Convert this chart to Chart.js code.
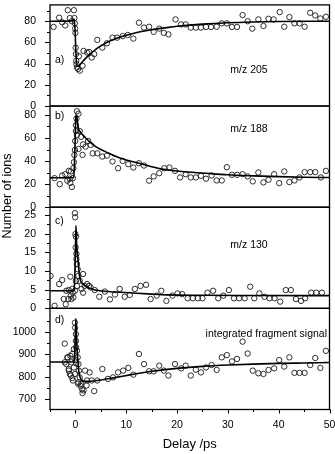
<!DOCTYPE html>
<html>
<head>
<meta charset="utf-8">
<script src="https://cdn.jsdelivr.net/npm/chart.js@4.4.1/dist/chart.umd.min.js"></script>
<style>
  html, body { margin: 0; padding: 0; background: #fff; }
  #wrap { position: relative; width: 335px; height: 454px; }
</style>
</head>
<body>
<div id="wrap"><canvas id="chart" width="335" height="454"></canvas></div>
<script>
// shared delay axis
const delayTicks = [0, 10, 20, 30, 40, 50];
const delayMinor = [-5, 5, 15, 25, 35, 45];

// a) m/z 205
const aTicks = [0, 20, 40, 60, 80];
const aMinor = [10, 30, 50, 70, 90];
const aDelay = [-4.3, -3.2, -2.6, -2.0, -1.5, -1.1, -0.7, -0.3, -0.2, -0.1, -0.05, 0.0, 0.05, 0.1, 0.15, 0.2, 0.3, 0.5,
  0.85, 1.4, 0.7, 1.6, 2.3, 2.7, 3.2, 3.7, 4.3, 5.3, 6.2, 7.3, 8.2, 9.3, 10.3, 11.4, 12.5, 13.5, 14.5, 15.4, 16.5,
  17.4, 18.3, 19.7, 20.8, 21.7, 22.7, 23.7, 24.7, 25.7, 26.7, 27.8, 28.8, 29.8, 30.8, 31.8, 32.9, 33.9, 34.8, 36.0,
  37.0, 38.0, 39.0, 40.2, 41.1, 42.1, 43.1, 44.1, 45.1, 46.2, 47.2, 48.2, 49.3];
const aIons = [74.6, 83.3, 79, 76, 90.4, 83, 80, 90.4, 83, 78, 73, 69, 55, 49, 42.7, 39.6, 36.5, 35,
  33.4, 38, 47, 52, 50.5, 51, 45.8, 49, 62.4, 55.2, 59.2, 64.5, 64.5, 66, 67, 63.6, 78.6, 74, 74.8, 70, 73,
  69, 67.6, 81.7, 77, 77, 74, 74, 74, 74.6, 74.6, 74.8, 78, 78, 74.6, 74.6, 85.8, 80, 73, 81.7,
  75.5, 82.3, 81.7, 88.6, 74.8, 83.9, 78, 78, 74.8, 88, 85.4, 82.6, 84.2];
const aFitDelay = [-5, -0.6, -0.25, -0.05, 0.1, 0.3, 0.6, 1, 2, 3, 4, 5, 7, 9, 11, 13, 15, 18, 20, 25, 30, 35, 40, 50];
const aFitIons = [80, 80.3, 82, 70, 50, 38, 37.5, 39.5, 45, 49.5, 53.5, 56.8, 61.8, 65.3, 68, 70.3, 72, 74, 75.2, 77.3, 78.6, 79.3, 79.7, 80];

// b) m/z 188
const bTicks = [0, 20, 40, 60, 80];
const bMinor = [10, 30, 50, 70];
const bDelay = [-4.1, -3.1, -2.6, -2.0, -1.6, -1.3, -1.1, -1.0, -0.9, -0.7, -0.5, -0.4, -0.3, -0.2, -0.1, -0.05, 0.1,
  0.1, 0.2, 0.3, 0.6, 0.3, 0.6, 0.85, 1.1, 1.4, 1.5, 2.0, 2.5, 3.0, 3.4, 4.3, 5.3, 6.2, 7.3, 8.4, 9.3, 10.4, 11.4,
  12.5, 13.5, 14.5, 15.4, 16.5, 17.5, 18.5, 19.6, 20.6, 21.7, 22.7, 23.7, 24.7, 25.7, 26.8, 27.8, 28.8, 29.8, 30.8,
  31.8, 32.9, 33.9, 34.9, 36.0, 37.0, 38.0, 39.1, 40.1, 41.1, 42.1, 43.1, 44.1, 45.1, 46.2, 47.2, 48.3, 49.3];
const bIons = [25.2, 20, 27.5, 28.6, 23, 31.5, 24.7, 21, 31, 17.5, 25.2, 33.8, 39, 45.3, 49.6, 57.4, 66,
  71, 76.8, 83.2, 81, 62.5, 50.5, 66, 61, 45.3, 54.5, 52.5, 57.4, 54, 46.7, 46.7, 43.9, 44.7, 39.6, 33.8, 40.1, 37.3, 34.4,
  38.1, 36.1, 23, 26.7, 29.5, 33.8, 34.4, 31.5, 25.8, 28.6, 25.8, 25.8, 27.2, 24.7, 27.5, 23.2, 23.2, 34.7, 28.1,
  28.1, 28.6, 26.7, 22.4, 30.1, 21.5, 23.8, 28.6, 20.9, 31, 21.8, 23.2, 25.8, 30.4, 30.4, 30.4, 25.8, 31.5];
const bFitDelay = [-5, -0.35, -0.2, -0.05, 0.1, 0.25, 0.5, 1, 1.5, 2, 3, 4, 5, 6.5, 8, 10, 12, 14.5, 17, 19, 22, 25, 30, 35, 40, 45, 50];
const bFitIons = [25.5, 25.5, 35, 60, 79, 80, 70, 65, 62.5, 60, 56, 52.5, 50, 47, 44, 41, 38.7, 35.8, 33, 31.8, 30.5, 29.6, 28.1, 27.2, 26.5, 26, 25.7];

// c) m/z 130
const cTicks = [0, 5, 10, 15, 20, 25];
const cMinor = [2.5, 7.5, 12.5, 17.5, 22.5];
const cDelay = [-4.9, -4.1, -3.2, -2.6, -2.3, -1.9, -1.8, -1.4, -1.3, -1.0, -0.9, -0.8, -0.6, -0.5, -0.4, -0.1, -0.05,
  0.0, 0.1, 0.05, 0.2, 0.2, 0.3, 0.45, 0.6, 0.1, 0.3, -0.1, 0.85, 1.2, 1.5, 1.8, 2.3, 2.7, 3.0, 1.5, 3.8, 4.7, 5.8,
  6.8, 7.8, 8.7, 9.7, 10.7, 11.7, 12.8, 13.9, 14.8, 16.0, 16.9, 17.9, 19.1, 20.1, 21.0, 22.1, 23.1, 24.1, 25.0,
  26.0, 27.1, 28.1, 29.1, 30.2, 31.2, 32.2, 33.3, 34.4, 35.2, 36.2, 37.2, 38.2, 39.2, 40.3, 41.4, 42.4, 43.4,
  44.4, 45.2, 46.4, 47.4, 48.5];
const cIons = [8.7, 0.7, 6.5, 7.6, 2.5, 1.1, 4.7, 2.5, 4.9, 8.5, 3.4, 2.5, 5.2, 4.2, 2.9, 25.5, 24.4,
  19.9, 19.2, 16.3, 14.6, 13.2, 11.9, 10.5, 8.7, 7.4, 6.0, 4.7, 7.4, 5.2, 9.2, 6.0, 6.5, 6.0, 5.6, 4.2, 4.9, 3.1, 4.5,
  2.4, 3.7, 5.2, 3.1, 3.6, 5.2, 6.0, 6.3, 2.5, 3.4, 4.7, 2.0, 3.4, 4.0, 3.8, 2.7, 2.7, 2.7, 2.7,
  4.2, 4.7, 2.7, 3.4, 4.9, 2.7, 2.7, 2.7, 5.8, 2.7, 4.0, 3.1, 2.7, 2.7, 1.8, 4.9, 4.9, 2.5,
  2.0, 2.7, 4.2, 4.2, 4.2];
const cFitDelay = [-5, -0.4, -0.2, 0, 0.1, 0.25, 0.5, 0.85, 1.5, 2.8, 4.8, 8, 11.4, 15, 18, 25, 35, 50];
const cFitIons = [4.7, 4.7, 6, 15, 22.2, 17, 12.8, 8.3, 6.5, 5.4, 4.7, 4.4, 4.1, 3.8, 3.6, 3.5, 3.45, 3.4];

// d) integrated fragment signal
const dTicks = [700, 800, 900, 1000];
const dMinor = [750, 850, 950, 1050];
const dDelay = [-2.1, -1.8, -1.5, -1.3, -1.0, -1.1, -0.8, -0.6, -0.5, -0.3, -0.3, -0.1, -0.1, -0.05, 0.1, 0.1, 0.15,
  0.3, 0.45, 0.6, 0.7, 0.6, 0.85, 1.1, 1.4, 1.6, 1.9, 2.2, 2.3, 2.8, 3.2, 3.7, 4.3, 5.3, 6.4, 7.4, 8.4, 9.4, 10.4,
  11.4, 12.5, 13.5, 14.5, 15.4, 16.5, 17.4, 18.3, 19.6, 20.8, 21.7, 22.7, 23.7, 24.7, 25.7, 26.8, 27.8, 28.8, 29.8,
  30.8, 31.8, 32.9, 33.9, 34.9, 36.0, 37.0, 38.0, 39.1, 40.1, 41.1, 42.1, 43.1, 44.1, 45.1, 46.2, 47.2, 48.2, 49.3,
  -2.1, -1.6, -1.3, -0.9, -0.6, 0.0, 0.2, 0.5, 1.0, 1.3];
const dIons = [948, 857, 887, 828, 894, 813, 865, 902, 784, 842, 924, 813, 1041, 1019, 990, 960, 931,
  916, 887, 857, 828, 776, 798, 769, 728, 740, 828, 762, 784, 820, 784, 737, 784, 835, 791, 798, 820, 828, 840,
  810, 902, 857, 825, 825, 850, 828, 806, 857, 838, 850, 806, 832, 820, 842, 853, 831, 887, 897,
  869, 880, 957, 904, 828, 816, 813, 831, 838, 875, 846, 887, 818, 818, 818, 853, 884, 840, 916,
  865, 887, 835, 806, 795, 875, 860, 770, 760, 745];
const dFitDelay = [-5, -0.3, -0.15, 0, 0.1, 0.25, 0.45, 0.7, 1.1, 1.8, 3, 5, 8, 11, 15, 20, 25, 30, 35, 40, 45, 50];
const dFitIons = [866, 866, 900, 1000, 1060, 960, 880, 820, 790, 780, 781, 786, 798, 810, 825, 838, 847, 853, 857, 860, 862, 864];

const FONT = "'Liberation Sans', Arial, Helvetica, sans-serif";
Chart.defaults.font.family = FONT;
Chart.defaults.color = '#000';

const pairs = (xs, ys) => xs.map((x, i) => ({ x: x, y: ys[i] }));

const panels = [
  { id: 'ya', min: 0, max: 95.4, major: aTicks, minor: aMinor, tag: 'a)', tagDy: 55.3,
    note: 'm/z 205', noteX: 249, noteDy: 65, noteAlign: 'center' },
  { id: 'yb', min: 0, max: 87.7, major: bTicks, minor: bMinor, tag: 'b)', tagDy: 10.5,
    note: 'm/z 188', noteX: 249, noteDy: 23, noteAlign: 'center' },
  { id: 'yc', min: 0, max: 27.1, major: cTicks, minor: cMinor, tag: 'c)', tagDy: 14.3,
    note: 'm/z 130', noteX: 249, noteDy: 38, noteAlign: 'center' },
  { id: 'yd', min: 655, max: 1105, major: dTicks, minor: dMinor, tag: 'd)', tagDy: 11.7,
    note: 'integrated fragment signal', noteX: 327, noteDy: 25.7, noteAlign: 'right' }
];

function noPadding(s) {
  s.paddingTop = 0; s.paddingBottom = 0; s.paddingLeft = 0; s.paddingRight = 0;
}

function yScale(p) {
  return {
    type: 'linear',
    position: 'left',
    stack: 'ions',
    stackWeight: 1,
    min: p.min,
    max: p.max,
    grid: { display: false, drawTicks: false },
    border: { display: false },
    ticks: { padding: 14, color: '#000', font: { size: 10.5 }, autoSkip: false, callback: v => String(v) },
    afterBuildTicks: s => { s.ticks = p.major.map(v => ({ value: v })); },
    afterFit: s => { s.width = 50; noPadding(s); }
  };
}

function dots(xs, ys, axis) {
  return {
    data: pairs(xs, ys), yAxisID: axis, showLine: false,
    pointRadius: 2.7, pointBorderWidth: 0.9,
    pointBorderColor: '#1a1a1a', pointBackgroundColor: 'rgba(0,0,0,0)', clip: 0
  };
}

function fit(xs, ys, axis) {
  return {
    data: pairs(xs, ys), yAxisID: axis, showLine: true,
    pointRadius: 0, borderColor: '#000', borderWidth: 1.6,
    cubicInterpolationMode: 'monotone', clip: 0
  };
}

// frame, tick marks and in-panel labels
const framePlugin = {
  id: 'frame',
  afterDraw(chart) {
    const ctx = chart.ctx;
    const area = chart.chartArea;
    const xs = chart.scales.x;
    ctx.save();
    ctx.strokeStyle = '#000';

    panels.forEach(p => {
      const s = chart.scales[p.id];
      ctx.lineWidth = 1.3;
      ctx.strokeRect(area.left, s.top, area.right - area.left, s.bottom - s.top);

      ctx.lineWidth = 1;
      ctx.beginPath();
      p.major.forEach(v => {
        const y = Math.round(s.getPixelForValue(v)) + 0.5;
        ctx.moveTo(area.left - 5, y); ctx.lineTo(area.left, y);
      });
      p.minor.forEach(v => {
        if (v < p.min || v > p.max) return;
        const y = Math.round(s.getPixelForValue(v)) + 0.5;
        ctx.moveTo(area.left - 3, y); ctx.lineTo(area.left, y);
      });
      ctx.stroke();

      ctx.fillStyle = '#000';
      ctx.font = '10.5px ' + FONT;
      ctx.textBaseline = 'middle';
      ctx.textAlign = 'left';
      ctx.fillText(p.tag, 55, s.top + p.tagDy);
      ctx.textAlign = p.noteAlign;
      ctx.fillText(p.note, p.noteX, s.top + p.noteDy);
    });

    ctx.lineWidth = 1;
    ctx.beginPath();
    delayTicks.forEach(v => {
      const x = Math.round(xs.getPixelForValue(v)) + 0.5;
      ctx.moveTo(x, area.bottom); ctx.lineTo(x, area.bottom + 4);
    });
    delayMinor.forEach(v => {
      const x = Math.round(xs.getPixelForValue(v)) + 0.5;
      ctx.moveTo(x, area.bottom); ctx.lineTo(x, area.bottom + 2.5);
    });
    ctx.stroke();

    ctx.translate(7.5, 196);
    ctx.rotate(-Math.PI / 2);
    ctx.font = '12.5px ' + FONT;
    ctx.textAlign = 'center';
    ctx.textBaseline = 'middle';
    ctx.fillText('Number of ions', 0, 0);
    ctx.restore();
  }
};

const scales = {
  x: {
    type: 'linear',
    min: -5,
    max: 50,
    grid: { display: false, drawTicks: false },
    border: { display: false },
    ticks: { padding: 9, maxRotation: 0, autoSkip: false, color: '#000', font: { size: 10.5 } },
    afterBuildTicks: s => { s.ticks = delayTicks.map(v => ({ value: v })); },
    afterFit: s => { s.height = 44.5; noPadding(s); },
    title: { display: true, text: 'Delay /ps', color: '#000', font: { size: 13 }, padding: { top: 0, bottom: 2 } }
  }
};
// stacked left axes are placed top-down from the last one defined
panels.slice().reverse().forEach(p => { scales[p.id] = yScale(p); });

new Chart(document.getElementById('chart'), {
  type: 'scatter',
  data: {
    datasets: [
      fit(aFitDelay, aFitIons, 'ya'), dots(aDelay, aIons, 'ya'),
      fit(bFitDelay, bFitIons, 'yb'), dots(bDelay, bIons, 'yb'),
      fit(cFitDelay, cFitIons, 'yc'), dots(cDelay, cIons, 'yc'),
      fit(dFitDelay, dFitIons, 'yd'), dots(dDelay, dIons, 'yd')
    ]
  },
  options: {
    responsive: false,
    animation: false,
    events: [],
    layout: { padding: { top: 2, right: 5.5, left: 0, bottom: 0 } },
    plugins: { legend: { display: false }, tooltip: { enabled: false } },
    scales: scales
  },
  plugins: [framePlugin]
});
</script>
</body>
</html>
